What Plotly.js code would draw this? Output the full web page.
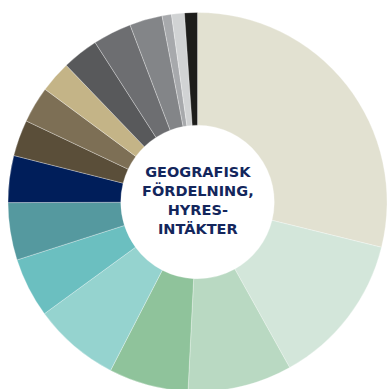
<!DOCTYPE html>
<html>
<head>
<meta charset="utf-8">
<script src="https://cdn.plot.ly/plotly-3.0.1.min.js"></script>
<style>
html,body{margin:0;padding:0;overflow:hidden;background:#fff;}
#chart{width:387px;height:400px;}
</style>
</head>
<body>
<div id="chart"></div>
<script>
const categories = ["Område 1","Område 2","Område 3","Område 4","Område 5","Område 6","Område 7","Område 8","Område 9","Område 10","Område 11","Område 12","Område 13","Område 14","Område 15","Område 16","Område 17"];
const values = [28.9, 13.1, 8.9, 6.8, 7.4, 5.1, 4.9, 4.0, 3.1, 3.1, 2.7, 3.1, 3.3, 2.8, 0.8, 1.1, 1.1];
const colors = ["#e2e1d1","#d3e6da","#b9d9c2","#8fc39b","#95d3cf","#6bbfc0","#55999f","#001e5a","#5a4e39","#7d6f55","#c4b487","#58595b","#6d6e71","#838588","#a7a9ac","#d1d3d4","#1d1d1b"];
const centerTitle = "GEOGRAFISK<br>FÖRDELNING,<br>HYRES-<br>INTÄKTER";

const W = 387, H = 400;
const trace = {
  type: "pie",
  labels: categories,
  values: values,
  sort: false,
  direction: "clockwise",
  rotation: 0,
  hole: 0.405,
  textinfo: "none",
  hoverinfo: "label+percent",
  marker: {colors: colors, line: {color: "rgba(255,255,255,0.6)", width: 0.5}},
  domain: {x: [8/W, 1], y: [8/H, 388/H]},
  showlegend: false
};
const layout = {
  width: W, height: H,
  margin: {l:0, r:0, t:0, b:0},
  paper_bgcolor: "#fff",
  showlegend: false,
  annotations: [{
    text: "<b>" + centerTitle + "</b>",
    x: 197.5/W, y: 1 - 200/H, xref: "paper", yref: "paper",
    xanchor: "center", yanchor: "middle",
    showarrow: false, align: "center",
    font: {family: "DejaVu Sans", size: 14.5, color: "#13265c"}
  }]
};
Plotly.newPlot("chart", [trace], layout, {displayModeBar: false, staticPlot: true});
</script>
</body>
</html>
